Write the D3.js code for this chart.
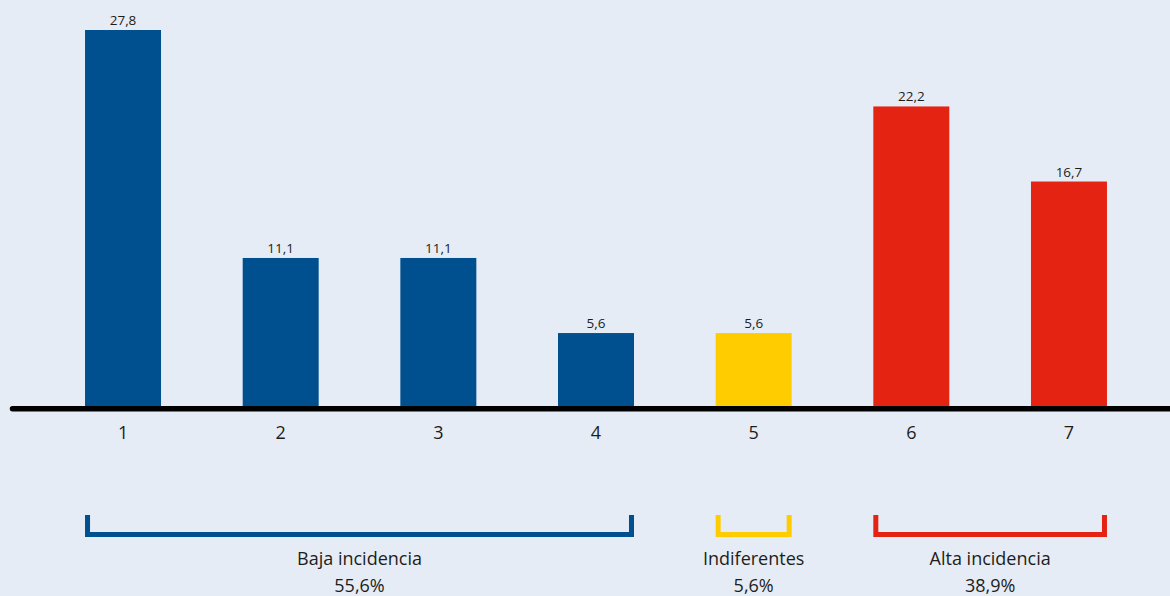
<!DOCTYPE html>
<html>
<head>
<meta charset="utf-8">
<script src="https://cdn.jsdelivr.net/npm/d3@7"></script>
<style>
  html, body { margin: 0; padding: 0; background: #e6ecf5; }
  svg { display: block; font-family: "Open Sans", "Noto Sans", sans-serif; }
</style>
</head>
<body>
<svg id="chart" width="1170" height="596"></svg>
<script>
// Categories (scale positions 1–7) and share of responses in %
const categories = ["1", "2", "3", "4", "5", "6", "7"];
const values = [27.8, 11.1, 11.1, 5.6, 5.6, 22.2, 16.7];
const valueLabels = ["27,8", "11,1", "11,1", "5,6", "5,6", "22,2", "16,7"];

// Grouping of the scale positions
const groupNames = ["Baja incidencia", "Indiferentes", "Alta incidencia"];
const groupShares = ["55,6%", "5,6%", "38,9%"];
const groupFirst = ["1", "5", "6"];
const groupLast = ["4", "5", "7"];
const groupColors = ["#004f8f", "#ffcc00", "#e42313"];

const barGroup = categories.map(c =>
  groupFirst.findIndex((f, k) => +c >= +f && +c <= +groupLast[k])
);

const svg = d3.select("#chart");
const W = 1170;

const x = d3.scaleBand()
  .domain(categories)
  .range([44.2, 1147.8])
  .paddingInner(0.518)
  .paddingOuter(0.259);

const y = d3.scaleLinear()
  .domain([0, 27.8])
  .range([409.5, 30]);

const textColor = "#1d1d1b";

// Bars
svg.append("g").selectAll("rect")
  .data(categories)
  .join("rect")
  .attr("x", c => x(c))
  .attr("width", x.bandwidth())
  .attr("y", (c, i) => y(values[i]))
  .attr("height", (c, i) => y(0) - y(values[i]))
  .attr("fill", (c, i) => groupColors[barGroup[i]]);

// Value labels above bars
svg.append("g").selectAll("text")
  .data(categories)
  .join("text")
  .attr("x", c => x(c) + x.bandwidth() / 2)
  .attr("y", (c, i) => y(values[i]) - 5)
  .attr("text-anchor", "middle")
  .attr("font-size", 13.5)
  .attr("fill", textColor)
  .text((c, i) => valueLabels[i]);

// Baseline
svg.append("line")
  .attr("x1", 12.5).attr("x2", W + 5)
  .attr("y1", 408.7).attr("y2", 408.7)
  .attr("stroke", "#000")
  .attr("stroke-width", 5.5)
  .attr("stroke-linecap", "round");

// Category axis labels
const xAxis = d3.axisBottom(x).tickSize(0).tickPadding(0);
const axisG = svg.append("g")
  .attr("transform", "translate(0,439)")
  .call(xAxis);
axisG.select(".domain").remove();
axisG.selectAll("text")
  .attr("dy", 0)
  .attr("font-size", 18)
  .attr("font-family", "'Open Sans', 'Noto Sans', sans-serif")
  .attr("fill", textColor);

// Group brackets and labels
const groups = svg.append("g").selectAll("g")
  .data(groupNames)
  .join("g");

groups.append("path")
  .attr("d", (g, i) => {
    const x0 = x(groupFirst[i]) + 2.5;
    const x1 = x(groupLast[i]) + x.bandwidth() - 2.5;
    return `M${x0},515 V534.5 H${x1} V515`;
  })
  .attr("fill", "none")
  .attr("stroke", (g, i) => groupColors[i])
  .attr("stroke-width", 5)
  .attr("stroke-linejoin", "miter")
  .attr("stroke-linecap", "butt");

const cx = i => (x(groupFirst[i]) + x(groupLast[i]) + x.bandwidth()) / 2;

groups.append("text")
  .attr("x", (g, i) => cx(i))
  .attr("y", 565)
  .attr("text-anchor", "middle")
  .attr("font-size", 18)
  .attr("fill", textColor)
  .text(g => g);

groups.append("text")
  .attr("x", (g, i) => cx(i))
  .attr("y", 591.5)
  .attr("text-anchor", "middle")
  .attr("font-size", 18)
  .attr("fill", textColor)
  .text((g, i) => groupShares[i]);
</script>
</body>
</html>
